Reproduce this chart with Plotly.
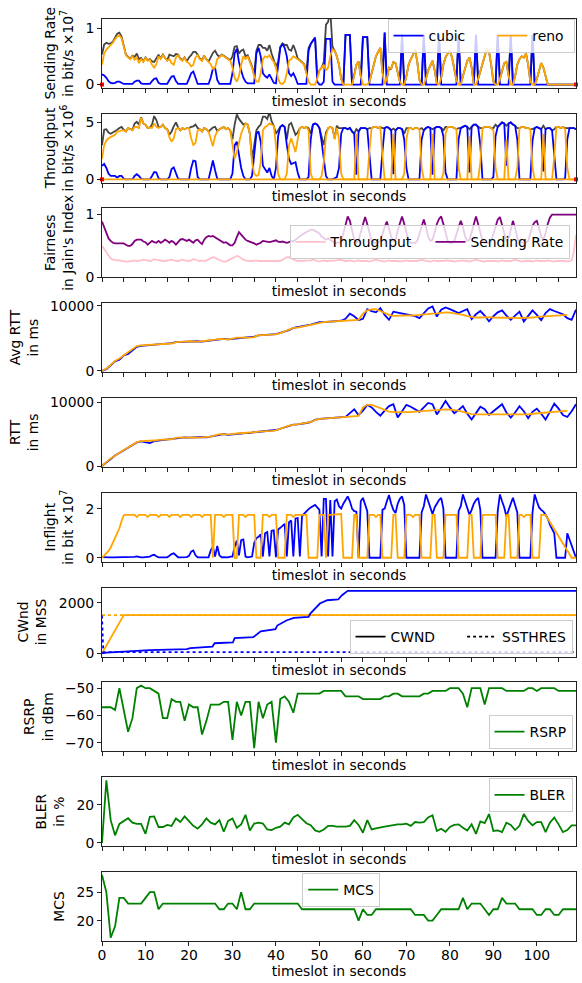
import numpy as np
import plotly.graph_objects as go

# ---------------- DATA ----------------
T_HALF = np.arange(0, 109.5, 0.5)   # 0.5 s grid, 219 points
T_SEC = np.arange(0, 110)           # 1 s grid, 110 points

# Panel 1: sending rate (x1e7 bit/s)
send_cubic = [
 0.18,0.16,0.12,0.06,0.03,0.02,0.03,0.05,0.05,0.03,0.01,0.01,0.01,0.01,0.01,0.05,0.07,0.07,0.02,0.01,
 0.01,0.01,0.01,0.06,0.10,0.11,0.03,0.01,0.01,0.01,0.01,0.08,0.14,0.15,0.06,0.01,0.01,0.01,0.01,0.01,
 0.10,0.20,0.23,0.10,0.01,0.01,0.01,0.01,0.01,0.01,0.12,0.28,0.30,0.08,0.01,0.01,0.01,0.01,0.01,0.01,
 0.20,0.55,0.63,0.40,0.25,0.12,0.05,0.02,0.02,0.02,0.02,0.55,0.65,0.50,0.20,0.15,0.12,0.18,0.10,0.03,
 0.02,0.30,0.65,0.72,0.65,0.50,0.20,0.15,0.20,0.12,0.01,0.01,0.01,0.01,0.01,0.60,0.72,0.78,0.83,0.05,
 0.00,0.00,0.05,0.81,0.81,0.81,0.05,0.00,0.00,0.00,0.00,0.00,0.88,0.88,0.88,0.00,0.00,0.00,0.00,0.00,
 0.84,0.84,0.84,0.00,0.00,0.00,0.00,0.00,0.00,0.00,0.92,0.00,0.00,0.00,0.00,0.00,0.00,0.00,0.88,0.00,
 0.00,0.00,0.00,0.00,0.00,0.00,0.00,0.00,0.88,0.00,0.00,0.00,0.00,0.00,0.00,0.88,0.00,0.00,0.00,0.00,
 0.00,0.00,0.00,0.00,0.88,0.00,0.00,0.00,0.00,0.00,0.00,0.00,0.88,0.00,0.00,0.00,0.00,0.00,0.00,0.00,
 0.00,0.00,0.88,0.00,0.00,0.00,0.00,0.00,0.88,0.00,0.00,0.00,0.00,0.00,0.00,0.00,0.00,0.00,0.88,0.00,
 0,0,0,0,0,0,0,0,0,0,0,0,0,0,0,0,0,0,0]
send_reno = [
 0.35,0.55,0.62,0.66,0.70,0.74,0.80,0.85,0.87,0.82,0.68,0.52,0.48,0.45,0.50,0.44,0.48,0.38,0.45,0.40,
 0.47,0.42,0.44,0.35,0.30,0.36,0.50,0.45,0.52,0.46,0.42,0.45,0.38,0.35,0.48,0.52,0.45,0.42,0.47,0.40,
 0.38,0.32,0.35,0.48,0.52,0.45,0.42,0.50,0.44,0.40,0.36,0.28,0.30,0.45,0.48,0.52,0.50,0.47,0.45,0.42,
 0.30,0.12,0.05,0.15,0.35,0.50,0.45,0.50,0.40,0.30,0.15,0.05,0.05,0.20,0.45,0.50,0.48,0.52,0.45,0.40,
 0.30,0.10,0.02,0.01,0.05,0.20,0.42,0.45,0.50,0.48,0.45,0.42,0.38,0.35,0.20,0.05,0.00,0.00,0.00,0.10,
 0.25,0.30,0.35,0.25,0.30,0.50,0.62,0.60,0.50,0.35,0.10,0.00,0.00,0.00,0.00,0.00,0.15,0.35,0.41,0.15,
 0.00,0.00,0.00,0.05,0.20,0.40,0.50,0.58,0.65,0.20,0.00,0.10,0.30,0.28,0.40,0.38,0.20,0.05,0.00,0.00,
 0.15,0.35,0.45,0.52,0.62,0.40,0.08,0.00,0.00,0.10,0.25,0.35,0.42,0.25,0.02,0.00,0.12,0.35,0.48,0.55,
 0.60,0.48,0.30,0.08,0.00,0.00,0.15,0.30,0.42,0.48,0.30,0.00,0.00,0.10,0.25,0.35,0.50,0.62,0.58,0.35,
 0.05,0.00,0.00,0.10,0.25,0.38,0.40,0.15,0.00,0.00,0.15,0.35,0.45,0.50,0.48,0.55,0.35,0.05,0.00,0.00,
 0.10,0.25,0.38,0.30,0.15,0,0,0,0,0,0,0,0,0,0,0,0,0,0]

# Panel 2: throughput (x1e6 bit/s)
thr_cubic = [
 1.2,1.35,1.0,0.5,0.3,0.3,0.3,0.15,0.3,0.3,0.05,0.0,0.0,0.0,0.02,0.3,0.45,0.3,0.05,0.0,
 0.0,0.0,0.0,0.3,0.65,0.6,0.1,0.0,0.0,0.0,0.0,0.2,0.9,1.05,0.6,0.05,0.0,0.0,0.0,0.0,
 0.0,1.0,1.65,1.6,0.2,0.0,0.0,0.0,0.0,0.0,0.8,1.65,0.8,0.05,0.0,0.0,0.0,0.0,0.0,0.0,
 0.5,3.0,3.3,2.0,1.0,0.3,0.0,0.0,0.0,0.3,2.5,4.0,4.2,3.3,1.2,0.9,0.6,1.0,0.3,0.0,
 1.0,3.8,4.6,4.75,4.6,3.0,1.8,1.35,1.4,1.5,0.6,0.0,0.0,0.0,0.0,0.2,3.5,4.8,4.9,4.8,
 4.5,3.3,1.5,0.3,0.0,0.0,0.0,0.1,0.2,1.0,4.0,4.5,4.5,4.4,4.5,4.2,4.0,0.4,4.2,4.5,
 4.5,4.5,4.4,2.0,0.0,0.0,0.0,0.0,0.0,2.5,4.5,4.6,4.5,4.3,0.45,4.3,4.5,4.5,4.4,3.5,
 1.0,0.0,0.0,0.0,0.0,0.0,0.0,3.5,4.3,4.5,4.6,4.5,0.4,4.5,4.6,4.6,4.5,3.8,0.6,0.0,
 0.0,0.0,0.0,0.0,3.5,4.5,4.6,4.7,4.6,0.6,4.6,4.8,4.8,4.6,3.0,0.0,0.0,0.0,0.0,0.0,
 0.2,3.8,4.6,4.8,5.0,4.9,1.2,4.9,5.0,4.8,4.7,3.5,0.0,0.0,0.0,0.0,0.0,0.0,3.4,4.5,
 4.6,4.5,4.4,0.7,4.4,4.5,4.5,4.3,2.4,0.0,0.0,0.0,0.0,0.1,3.5,4.5,4.5,4.5,4.4]
thr_reno = [
 1.8,3.0,3.4,3.6,3.7,3.8,3.9,4.2,4.2,4.3,4.3,4.2,4.5,4.4,4.3,4.6,4.6,4.5,5.4,4.9,
 4.8,4.5,4.55,4.5,4.9,4.6,4.5,4.6,4.8,4.5,4.4,3.7,3.3,3.6,4.4,4.5,4.3,4.5,4.4,4.5,
 4.5,3.6,3.0,3.2,4.3,4.4,4.2,4.5,4.4,4.2,3.6,2.9,3.8,4.2,4.4,4.5,4.6,4.4,4.5,4.3,
 3.0,1.8,2.4,3.3,4.0,4.5,4.9,4.8,4.0,1.5,0.5,0.3,0.4,1.5,4.3,4.6,4.7,4.9,4.8,4.7,
 3.0,0.5,0.0,0.0,0.0,0.5,3.0,3.6,3.0,2.4,3.5,4.5,4.6,4.5,4.6,4.3,0.5,0.0,0.0,0.0,
 0.0,0.3,1.5,3.8,4.5,4.6,4.5,3.5,4.5,3.5,0.5,0.0,0.0,0.0,0.0,0.0,0.0,4.0,0.0,0.0,
 0.0,0.0,0.0,2.5,4.5,4.6,4.6,4.5,4.6,2.0,0.0,0.0,0.0,0.0,4.0,0.0,0.0,0.0,0.0,0.5,
 3.5,4.5,4.5,4.4,4.5,4.5,4.4,1.0,0.0,0.0,0.0,0.0,4.0,0.0,0.0,0.0,0.0,0.5,4.0,4.6,
 4.6,4.6,4.5,4.4,1.0,0.0,0.0,0.0,0.0,3.8,0.0,0.0,0.0,0.0,1.5,4.5,4.6,4.6,4.6,4.5,
 4.3,1.0,0.0,0.0,0.0,0.0,3.5,0.0,0.0,0.0,0.0,1.0,4.5,4.6,4.6,4.5,4.5,4.4,1.0,0.0,
 0.0,0.0,0.0,4.0,0.0,0.0,0.0,0.0,2.0,4.6,4.6,4.5,4.6,4.4,1.0,0.0,0.0,0.0,0.0]
idle_t = [0, 109]          # idle flow (zero rate)
idle_v = [0, 0]

# Panel 3: Jain's fairness index
fair_thr = [
 0.50,0.45,0.40,0.34,0.30,0.28,0.27,0.27,0.27,0.26,0.26,0.25,0.25,0.26,0.27,0.27,0.26,0.26,0.27,0.28,
 0.27,0.26,0.26,0.27,0.29,0.28,0.27,0.26,0.26,0.26,0.27,0.27,0.28,0.27,0.26,0.26,0.27,0.28,0.27,0.26,
 0.26,0.27,0.29,0.28,0.27,0.26,0.27,0.26,0.27,0.29,0.31,0.32,0.31,0.29,0.27,0.26,0.25,0.25,0.27,0.29,
 0.31,0.33,0.34,0.33,0.30,0.28,0.27,0.26,0.26,0.26,0.27,0.27,0.26,0.26,0.26,0.27,0.27,0.26,0.26,0.27,
 0.27,0.26,0.26,0.28,0.30,0.32,0.32,0.30,0.28,0.27,0.26,0.26,0.27,0.27,0.26,0.26,0.27,0.28,0.27,0.26,
 0.25,0.26,0.27,0.26,0.26,0.27,0.26,0.26,0.27,0.28,0.27,0.26,0.26,0.26,0.27,0.26,0.25,0.26,0.27,0.26,
 0.26,0.27,0.26,0.25,0.26,0.27,0.28,0.27,0.26,0.26,0.25,0.26,0.27,0.26,0.26,0.27,0.26,0.25,0.26,0.27,
 0.27,0.26,0.26,0.25,0.26,0.26,0.27,0.28,0.27,0.26,0.26,0.25,0.26,0.27,0.26,0.26,0.25,0.26,0.27,0.27,
 0.26,0.26,0.25,0.25,0.26,0.27,0.27,0.26,0.26,0.25,0.26,0.27,0.28,0.27,0.26,0.26,0.25,0.26,0.26,0.27,
 0.27,0.26,0.25,0.26,0.27,0.26,0.26,0.25,0.26,0.27,0.28,0.27,0.26,0.25,0.26,0.26,0.27,0.26,0.25,0.26,
 0.27,0.26,0.26,0.25,0.26,0.27,0.26,0.26,0.25,0.26,0.26,0.27,0.26,0.26,0.25,0.26,0.27,0.40,0.68]
fair_send = [
 0.89,0.80,0.70,0.62,0.58,0.55,0.54,0.54,0.54,0.54,0.54,0.52,0.50,0.50,0.53,0.58,0.60,0.60,0.60,0.57,
 0.56,0.52,0.55,0.58,0.56,0.55,0.58,0.55,0.57,0.60,0.58,0.55,0.58,0.56,0.52,0.56,0.60,0.61,0.60,0.58,
 0.60,0.58,0.55,0.59,0.60,0.56,0.53,0.60,0.64,0.66,0.65,0.66,0.64,0.62,0.60,0.58,0.55,0.56,0.53,0.51,
 0.51,0.55,0.64,0.72,0.68,0.64,0.60,0.58,0.57,0.56,0.54,0.52,0.53,0.55,0.58,0.57,0.57,0.56,0.57,0.58,
 0.59,0.57,0.56,0.57,0.56,0.55,0.56,0.58,0.57,0.60,0.62,0.65,0.68,0.70,0.72,0.74,0.76,0.76,0.74,0.72,
 0.70,0.65,0.62,0.60,0.62,0.60,0.57,0.55,0.55,0.55,0.56,0.70,0.85,0.97,0.90,0.75,0.60,0.55,0.58,0.72,
 0.85,0.96,0.85,0.70,0.58,0.55,0.55,0.55,0.58,0.70,0.80,0.89,0.78,0.65,0.58,0.60,0.75,0.88,0.97,0.85,
 0.70,0.58,0.55,0.55,0.55,0.58,0.70,0.82,0.92,0.80,0.65,0.58,0.60,0.72,0.85,0.93,0.97,0.85,0.70,0.58,
 0.55,0.55,0.58,0.70,0.82,0.90,0.80,0.65,0.58,0.60,0.72,0.85,0.97,0.85,0.70,0.58,0.55,0.55,0.55,0.58,
 0.70,0.82,0.92,0.96,0.82,0.68,0.58,0.62,0.78,0.90,0.78,0.63,0.56,0.55,0.55,0.55,0.58,0.70,0.82,0.88,
 0.90,0.78,0.65,0.60,0.70,0.85,0.95,1.0,1.0,1.0,1.0,1.0,1.0,1.0,1.0,1.0,1.0,1.0,1.0]

# Panel 4: average RTT (ms), Panel 5: RTT (ms)
avg_rtt_cubic = [
 0,250,850,1450,1700,2350,2600,3100,3700,3850, 3900,3950,4000,4050,4100,4150,4250,4400,4450,4500,
 4500,4500,4550,4500,4600,4700,4750,4900,4900,4850, 4900,5050,5100,5100,5100,5250,5450,5500,5550,5500,
 5650,5850,6000,6250,6600,6700,6800,6950,7100,7300, 7500,7500,7550,7550,7600,7700,8000,8800,8400,7800,
 8000,9500,9200,9000,9650,8600,7850,9100,8950,8800, 8700,8600,8400,8100,8900,9600,9900,8350,9400,9750,
 9500,9200,8900,9200,9500,7950,8700,9200,8500,7600, 8400,9000,9300,8500,7850,8500,9100,7600,8500,9300,
 8600,7800,8900,9500,9200,8900,8700,8100,7850,9400]
avg_rtt_reno = [
 0,300,900,1500,1900,2400,2800,3300,3800,3900, 3950,4000,4000,4050,4100,4150,4200,4400,4500,4500,
 4550,4500,4500,4550,4600,4650,4800,4900,4850,4850, 4950,5100,5100,5050,5100,5200,5500,5500,5500,5500,
 5600,5800,6050,6300,6600,6650,6800,6900,7100,7300, 7450,7500,7550,7600,7650,7700,7700,7750,7800,7850,
 8800,9300,9450,9500,9200,8900,8600,8450,8450,8450, 8450,8500,8550,8600,8700,8750,8800,8850,8950,9000,
 8950,8850,8700,8600,8400,8250,8200,8200,8250,8250, 8200,8200,8250,8200,8200,8150,8100,8100,8150,8200,
 8300,8350,8400,8450,8450,8500,8550,8600]
rtt_cubic = [
 0,550,1150,1650,2050,2450,2950,3350,3700,3850, 3700,3600,3900,4000,4100,4200,4250,4350,4450,4500,
 4450,4500,4500,4550,4500,4650,4750,4950,5000,4900, 5000,5050,5100,5150,5150,5300,5350,5450,5450,5550,
 5650,5850,6050,6300,6500,6550,6600,6750,6900,7250, 7400,7450,7450,7500,7550,7600,7700,8300,8900,8000,
 8700,9600,9200,8500,7900,8700,9400,9700,7600,8600, 9600,9300,8900,8500,9200,9900,9700,8100,9100,10200,
 9200,8300,8800,9400,8200,7300,8300,9300,8900,8000, 8600,9200,9700,8400,7600,8400,9400,8600,7500,8500,
 9000,8200,7300,8500,9800,9000,8000,7700,8600,9700]
rtt_reno = [
 0,600,1200,1600,2100,2500,2900,3300,3750,3900, 3900,3950,4000,4100,4150,4150,4200,4400,4500,4450,
 4500,4500,4450,4500,4550,4600,4800,5000,4950,4950, 5000,5100,5150,5100,5200,5300,5400,5400,5450,5500,
 5600,5800,6100,6350,6450,6550,6650,6700,6900,7200, 7400,7450,7500,7500,7550,7550,7600,7650,7750,7850,
 9200,9600,9600,9400,9100,8800,8550,8450,8430,8430, 8430,8480,8550,8600,8700,8750,8800,8850,8900,8900,
 8850,8800,8700,8500,8300,8150,8100,8100,8100,8100, 8100,8100,8050,8050,8000,8000,8000,8050,8100,8200,
 8270,8350,8400,8450,8530,8580,8620,8640]

# Panel 6: inflight (x1e7 bit)
infl_cubic = [
 0.03,0.02,0.02,0.03,0.02,0.02,0.02,0.03,0.02,0.02,0.02,0.02,0.02,0.02,0.02,0.04,0.06,0.03,0.02,0.02,
 0.02,0.02,0.05,0.10,0.12,0.06,0.02,0.02,0.02,0.03,0.02,0.08,0.15,0.18,0.10,0.02,0.02,0.02,0.02,0.03,
 0.08,0.25,0.30,0.10,0.02,0.02,0.02,0.03,0.02,0.02,0.30,0.45,0.05,0.48,0.10,0.02,0.03,0.02,0.02,0.05,
 0.05,0.45,0.70,0.10,0.72,0.75,0.05,0.02,0.02,0.05,0.60,0.80,0.85,0.95,0.05,1.00,1.05,0.05,1.10,1.12,
 0.02,1.15,1.22,1.30,1.38,0.05,1.45,1.52,0.05,1.60,1.62,0.05,1.70,1.80,1.90,1.98,2.05,2.10,2.15,2.05,
 1.95,0.05,2.40,2.40,0.05,2.35,0.05,2.30,2.37,2.10,2.00,2.20,2.35,2.50,2.30,2.00,1.90,1.88,0.00,2.30,
 2.44,2.20,1.90,0.00,0.00,0.00,0.00,0.00,0.00,1.96,2.00,2.30,2.55,2.20,1.95,1.82,2.20,2.40,2.50,2.15,
 0.00,0.00,0.00,0.00,0.00,0.00,0.00,1.85,2.10,2.58,2.30,2.00,1.78,2.05,2.20,2.35,2.44,2.00,0.00,0.00,
 0.00,0.00,0.00,0.00,1.90,2.10,2.58,2.30,2.05,1.75,1.95,2.20,2.35,2.44,1.95,0.00,0.00,0.00,0.00,0.00,
 0.00,0.00,1.90,2.58,2.30,2.05,1.68,1.90,2.20,2.44,2.10,1.85,0.00,0.00,0.00,0.00,0.00,0.00,1.85,2.58,
 2.30,2.05,1.95,1.88,1.75,1.60,1.35,1.15,1.00,0.00,0.00,0.00,0.00,0.00,1.00,0.75,0.50,0.25,0.00]
infl_reno = [
 0.00,0.08,0.18,0.28,0.42,0.60,0.78,0.98,1.20,1.50,1.73,1.75,1.75,1.75,1.75,1.75,1.66,1.75,1.75,1.75,
 1.75,1.66,1.75,1.75,1.75,1.75,1.66,1.75,1.75,1.75,1.75,1.66,1.75,1.75,1.75,1.75,1.66,1.75,1.75,1.75,
 1.75,1.66,1.75,1.75,1.75,1.75,1.66,1.75,1.75,1.75,1.75,0.00,1.75,1.75,1.75,1.75,1.66,1.75,1.75,1.75,
 1.75,0.00,0.00,1.75,1.75,1.75,1.66,1.75,1.75,1.75,1.75,0.00,0.00,0.00,1.75,1.75,1.75,1.66,1.75,1.75,
 1.75,0.00,0.00,0.00,0.00,1.75,1.75,1.75,1.66,1.75,1.75,1.75,1.75,1.75,1.75,0.00,0.00,0.00,0.00,0.00,
 1.75,1.75,1.75,0.00,1.75,1.75,1.75,1.75,1.78,1.78,1.78,0.00,0.00,0.00,0.00,0.00,1.75,1.75,0.00,0.00,
 0.00,0.00,0.00,1.75,1.75,1.75,1.66,1.75,1.75,0.00,0.00,0.00,0.00,0.00,1.75,1.75,0.00,0.00,0.00,0.00,
 1.75,1.75,1.75,1.66,1.75,1.75,1.75,0.00,0.00,0.00,0.00,0.00,1.75,1.75,0.00,0.00,0.00,0.00,1.75,1.75,
 1.75,1.75,1.75,1.75,0.00,0.00,0.00,0.00,0.00,1.75,1.75,0.00,0.00,0.00,0.00,1.75,1.75,1.75,1.75,1.75,
 1.75,1.75,0.00,0.00,0.00,0.00,1.75,1.75,0.00,0.00,0.00,0.00,1.75,1.75,1.66,1.75,1.75,1.75,0.00,0.00,
 0.00,0.00,1.75,1.75,1.75,1.60,1.45,1.30,1.15,1.00,0.85,0.70,0.55,0.42,0.28,0.14,0.00,0.00,0.00]

# Panel 7: congestion window / slow-start threshold (MSS), vertices
cwnd_cubic_t = [0, 1, 11, 19.5, 20.3, 25.4, 25.9, 30.1, 30.5, 34.8, 36.5, 39.9, 40.3, 42.4, 44.1,
                47.5, 47.9, 50.1, 51.8, 54.3, 55.2, 56.5, 109]
cwnd_cubic_v = [0, 30, 130, 170, 210, 270, 400, 430, 600, 640, 870, 960, 1100, 1300, 1400,
                1440, 1570, 1970, 2100, 2130, 2300, 2470, 2470]
cwnd_reno_t = [0, 5, 109]
cwnd_reno_v = [0, 1510, 1510]
ssth_cubic_t = [0, 0.3, 109]
ssth_cubic_v = [1500, 50, 50]
ssth_reno_t = [0, 109]
ssth_reno_v = [1510, 1510]

# Panels 8-10: radio metrics (1 s)
rsrp = [-57,-57,-57,-58,-50,-58,-66,-61,-50,-49, -50,-50,-51,-52,-61,-61,-54,-55,-55,-62,
        -56,-57,-57,-67,-62,-56,-56,-56,-55,-55, -69,-55,-60,-55,-55,-72,-55,-61,-56,-55,
        -70,-54,-53,-55,-59,-52,-52,-52,-52,-52, -52,-51,-51,-51,-51,-51,-53,-53,-53,-53,
        -54,-54,-54,-54,-54,-53,-53,-52,-52,-53, -53,-53,-53,-53,-52,-52,-51,-51,-51,-51,
        -50,-50,-50,-52,-57,-50,-50,-50,-56,-50, -50,-50,-50,-51,-51,-51,-51,-51,-50,-50,
        -51,-50,-50,-50,-50,-51,-51,-51,-51,-51]
bler = [0,33,12,4,10,11.6,13,10.7,10,10, 4.8,13.8,14,8.4,8.4,9.5,9,12.9,11,14,
        11.6,9,7.5,9.8,12.9,10.7,9.8,12,5.9,11.6, 12.9,8,9.8,14.8,6.6,10.2,10.7,10.2,7.1,6.8,
        8,8.6,10.7,9.8,13.4,14.8,12.5,10.4,9.3,6.6, 5.9,7.1,9,9,8.6,8.6,8.6,9,12,9.5,
        5.4,12,7.1,7.7,8,8.6,9,9.5,9.8,9.8, 10.2,9,11,10.7,11,13.4,14.6,6.3,7.5,5.9,
        8.4,9.5,9.8,8,6.6,9.8,4.8,11.3,10.4,15.2, 6.3,6.6,5.7,10.7,9.5,6.8,9,15.2,11.6,9.3,
        11,11,5.7,10.7,13.4,9.8,5.7,6.8,9.3,9.3]
mcs = [28,25,17,19,24,24,23,23,23,23, 24,25,25,22,23,23,23,23,23,23,
       23,23,23,23,23,23,23,22,22,23, 23,22,25,22,22,23,23,23,23,23,
       23,23,23,23,23,23,22,22,22,22, 22,22,22,22,22,22,22,22,22,20,
       22,21,21,22,22,22,22,22,22,22, 22,22,21,21,21,20,20,21,22,22,
       22,22,22,24,22,23,23,23,22,21, 22,22,24,23,23,23,22,22,22,22,
       21,21,22,22,21,21,22,22,22,22]

end_t = [0, 109]     # red end markers
end_v = [0, 0]

for name, arr in [("send_cubic", send_cubic), ("send_reno", send_reno), ("thr_cubic", thr_cubic),
                  ("thr_reno", thr_reno), ("fair_thr", fair_thr), ("fair_send", fair_send),
                  ("infl_cubic", infl_cubic), ("infl_reno", infl_reno)]:
    assert len(arr) == len(T_HALF), (name, len(arr))
for name, arr, n in [("avg_rtt_cubic", avg_rtt_cubic, 110), ("avg_rtt_reno", avg_rtt_reno, 108),
                     ("rtt_cubic", rtt_cubic, 110), ("rtt_reno", rtt_reno, 108),
                     ("rsrp", rsrp, 110), ("bler", bler, 110), ("mcs", mcs, 110)]:
    assert len(arr) == n, (name, len(arr))

# ---------------- FIGURE ----------------
W, H = 582, 983
ML, MR, MT, MB = 101.5, 5.5, 18, 42
PW, PH = W - ML - MR, H - MT - MB
FONT = "DejaVu Sans"
FS = 13.9
BLUE, ORANGE, GRAY = "#0000ff", "#ffa500", "#444444"
PURPLE, PINK, GREEN, RED = "#800080", "#ffc0cb", "#008000", "#ff0000"
LW = 1.8
SPINE = "#222222"
NB = "\u00a0"

def yf(px):
    return 1 - (px - MT) / PH

def xf(px):
    return (px - ML) / PW

tops = [18.7 + 94.8 * k for k in range(10)]
AXH = 69

fig = go.Figure()

def sfx(k):
    return "" if k == 1 else str(k)

def add(k, x, y, color, name=None, legend=None, width=LW, dash=None, show=False):
    fig.add_trace(go.Scatter(
        x=x, y=y, mode="lines", name=name,
        line=dict(color=color, width=width, dash=dash),
        xaxis="x" + sfx(k), yaxis="y" + sfx(k),
        showlegend=show, legend=legend, hoverinfo="skip"))

total_send = (np.array(send_cubic) + np.array(send_reno)).tolist()
total_thr = (np.array(thr_cubic) + np.array(thr_reno)).tolist()

# panel 1
add(1, T_HALF, total_send, GRAY)
add(1, T_HALF, send_cubic, BLUE, "cubic" + NB * 5, "legend", show=True)
add(1, T_HALF, send_reno, ORANGE, "reno" + NB, "legend", show=True)
fig.add_trace(go.Scatter(x=end_t, y=end_v, mode="markers", marker=dict(color=RED, size=4, symbol="square"),
                         xaxis="x", yaxis="y", showlegend=False, hoverinfo="skip", cliponaxis=False))
# panel 2
add(2, T_HALF, total_thr, GRAY)
add(2, T_HALF, thr_cubic, BLUE)
add(2, T_HALF, thr_reno, ORANGE)
add(2, idle_t, idle_v, ORANGE)
fig.add_trace(go.Scatter(x=end_t, y=end_v, mode="markers", marker=dict(color=RED, size=4, symbol="square"),
                         xaxis="x2", yaxis="y2", showlegend=False, hoverinfo="skip", cliponaxis=False))
# panel 3
add(3, T_HALF, fair_thr, PINK, "Throughput" + NB * 3, "legend2", show=True)
add(3, T_HALF, fair_send, PURPLE, "Sending Rate", "legend2", show=True)
# panel 4, 5
add(4, T_SEC, avg_rtt_cubic, BLUE)
add(4, T_SEC[:108], avg_rtt_reno, ORANGE)
add(5, T_SEC, rtt_cubic, BLUE)
add(5, T_SEC[:108], rtt_reno, ORANGE)
# panel 6
add(6, T_HALF, infl_cubic, BLUE)
add(6, T_HALF, infl_reno, ORANGE)
# panel 7
add(7, ssth_reno_t, ssth_reno_v, ORANGE, dash="dot")
add(7, cwnd_reno_t, cwnd_reno_v, ORANGE)
add(7, cwnd_cubic_t, cwnd_cubic_v, BLUE)
add(7, ssth_cubic_t, ssth_cubic_v, BLUE, dash="dot")
add(7, [None], [None], "black", "CWND" + NB * 5, "legend3", show=True)
add(7, [None], [None], "black", "SSTHRES", "legend3", dash="dot", show=True)
# panels 8-10
add(8, T_SEC, rsrp, GREEN, "RSRP", "legend4", show=True)
add(9, T_SEC, bler, GREEN, "BLER", "legend5", show=True)
add(10, T_SEC, mcs, GREEN, "MCS", "legend6", show=True)

yranges = [[-0.056, 1.166], [-0.275, 5.775], [0, 1.1], [-200, 10420], [-140, 10690],
           [-0.16, 2.65], [-124, 2604], [-73.15, -47.85], [-1.65, 34.65], [16.45, 28.55]]
yticks = [[0, 1], [0, 5], [0, 1], [0, 10000], [0, 10000], [0, 2], [0, 2000],
          [-70, -60, -50], [0, 20], [20, 25]]
yticktext = [[str(v).replace("-", "\u2212") for v in tv] for tv in yticks]
ytitles = ["Sending Rate<br>in bit/s ×10<sup>7</sup>", "Throughput<br>in bit/s ×10<sup>6</sup>",
           "Fairness<br>in Jain's Index", "Avg RTT<br>in ms", "RTT<br>in ms",
           "Inflight<br>in bit ×10<sup>7</sup>", "CWnd<br>in MSS", "RSRP<br>in dBm",
           "BLER<br>in %", "MCS"]

layout = dict(
    width=W, height=H, margin=dict(l=ML, r=MR, t=MT, b=MB, autoexpand=False),
    paper_bgcolor="white", plot_bgcolor="white",
    font=dict(family=FONT, size=FS, color="black"),
)
for k in range(1, 11):
    top, bot = tops[k - 1], tops[k - 1] + AXH
    last = (k == 10)
    xa = dict(
        domain=[0, 1], anchor="y" + sfx(k), range=[0, 109],
        showline=True, mirror=True, linecolor=SPINE, linewidth=1,
        ticks="outside", ticklen=4, tickwidth=1, tickcolor=SPINE,
        tickmode="array",
        tickvals=list(range(0, 101, 10)) if last else list(range(0, 110, 5)),
        showticklabels=last, showgrid=False, zeroline=False,
        title=dict(text="timeslot in seconds", standoff=1 if last else 4, font=dict(size=FS)),
        tickfont=dict(size=FS),
    )
    if last:
        xa["ticklabelstandoff"] = -3
    layout["xaxis" + sfx(k)] = xa
    layout["yaxis" + sfx(k)] = dict(
        domain=[yf(bot), min(1, yf(top))], anchor="x" + sfx(k), range=yranges[k - 1],
        showline=True, mirror=True, linecolor=SPINE, linewidth=1,
        ticks="outside", ticklen=4, tickwidth=1, tickcolor=SPINE,
        tickmode="array", tickvals=yticks[k - 1], ticktext=yticktext[k - 1],
        showgrid=False, zeroline=False,
        title=dict(text=ytitles[k - 1], standoff=8, font=dict(size=FS)),
        tickfont=dict(size=FS),
    )

leg_common = dict(orientation="h", bgcolor="rgba(255,255,255,0.8)", bordercolor="#cccccc",
                  borderwidth=1, font=dict(size=FS, family=FONT), itemwidth=30,
                  tracegroupgap=0)
layout["legend"] = dict(leg_common, x=xf(575), y=yf(19), xanchor="right", yanchor="top")
layout["legend2"] = dict(leg_common, x=xf(570), y=yf(242.3), xanchor="right", yanchor="middle")
layout["legend3"] = dict(leg_common, x=xf(573), y=yf(637), xanchor="right", yanchor="middle")
layout["legend4"] = dict(leg_common, x=xf(573), y=yf(732), xanchor="right", yanchor="middle")
layout["legend5"] = dict(leg_common, x=xf(573), y=yf(795.4), xanchor="right", yanchor="middle")
layout["legend6"] = dict(leg_common, x=xf(341.25), y=yf(890), xanchor="center", yanchor="middle")

fig.update_layout(**layout)
fig.write_html("out.html", config={"displayModeBar": False},
               post_script="document.body.style.margin='0';")
